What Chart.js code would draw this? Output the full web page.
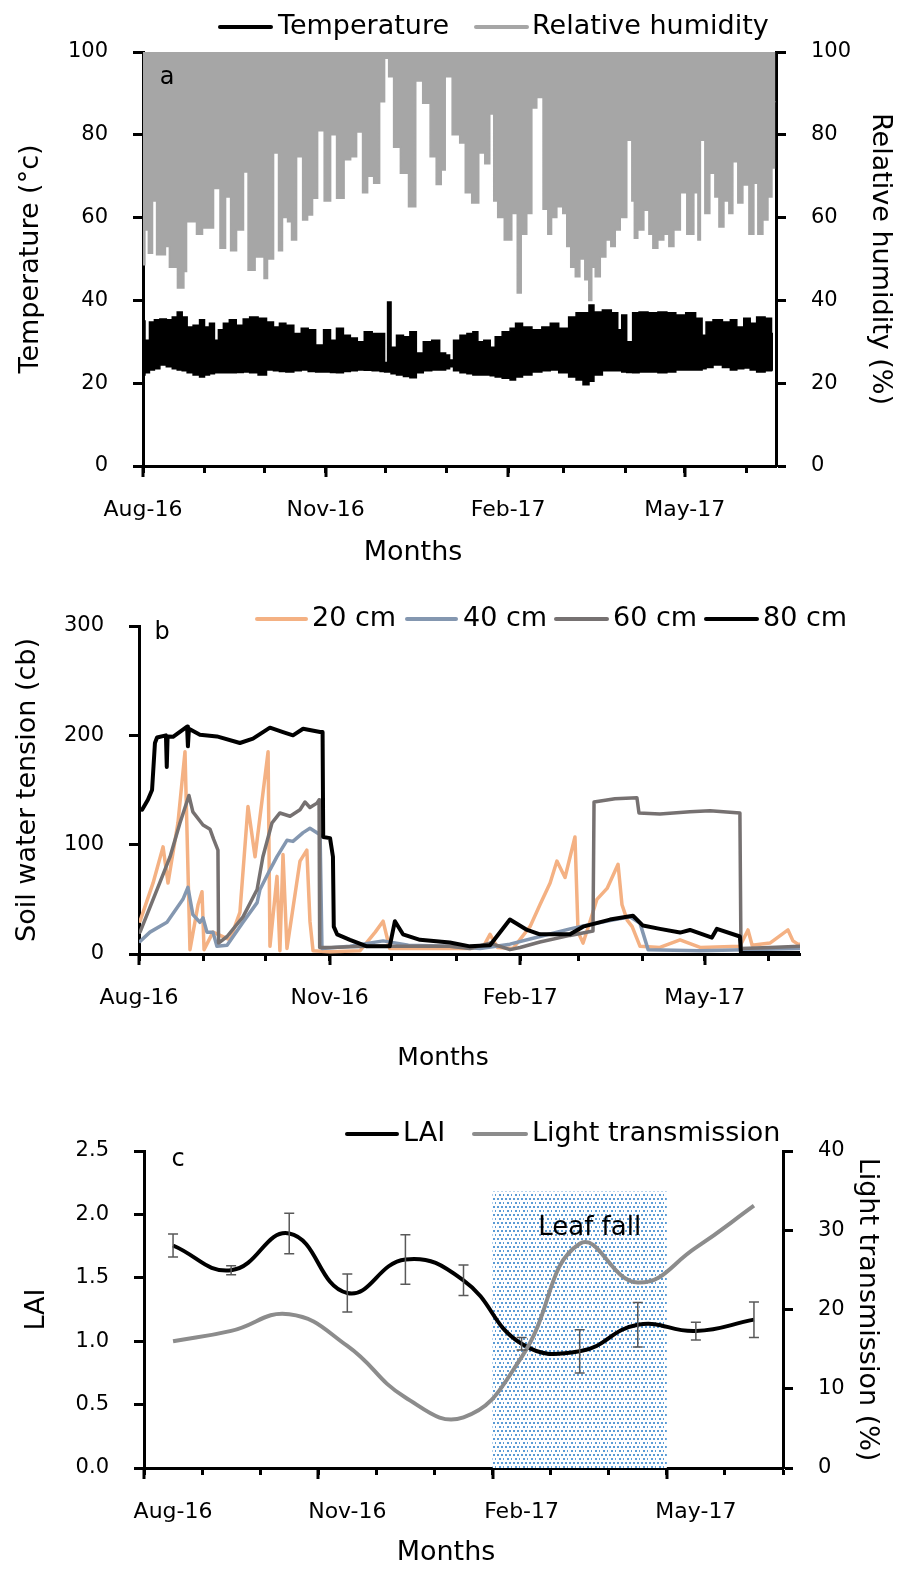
<!DOCTYPE html>
<html>
<head>
<meta charset="utf-8">
<script src="https://cdn.jsdelivr.net/npm/chart.js@4.4.1/dist/chart.umd.min.js"></script>
<style>
  html, body { margin: 0; padding: 0; background: #fff; }
  #wrap { position: relative; width: 901px; height: 1569px; }
  .panel { position: absolute; left: 0; width: 901px; }
  canvas { display: block; }
</style>
</head>
<body>
<div id="wrap">
  <div class="panel" style="top:0px;height:575px"><canvas id="chartA" width="901" height="575"></canvas></div>
  <div class="panel" style="top:575px;height:510px"><canvas id="chartB" width="901" height="510"></canvas></div>
  <div class="panel" style="top:1085px;height:484px"><canvas id="chartC" width="901" height="484"></canvas></div>
</div>
<script>
// ---------- shared month axis (days since 1 Aug 2016) ----------
const monthStartDays = [0, 31, 61, 92, 122, 153, 184, 212, 243, 273, 304];
const monthTickLabels = ['Aug-16', '', '', 'Nov-16', '', '', 'Feb-17', '', '', 'May-17', ''];
const dayAxisMax = 319;

// ---------- (a) air temperature and relative humidity ----------
const rhDay = [0, 1.9, 3.5, 6.1, 7.6, 10, 12.6, 14, 16, 18.7, 20, 21.2, 22.7, 25.2, 28.7, 31.3, 33.8, 37.3, 40.3, 42.9, 45.4, 48.9, 52.4, 53.5, 55.5, 57.5, 60.5, 61.5, 64, 67.6, 69, 71.6, 74.1, 75.6, 79.2, 81.7, 84.2, 86.7, 89.3, 93.3, 95.8, 99.3, 103.4, 105.9, 109.4, 111.9, 114.5, 118, 120.5, 123, 124.6, 128, 131.4, 136.2, 138.7, 143.2, 146.2, 149.3, 151.3, 153.3, 158.3, 160.9, 163.9, 167.4, 171, 173.5, 176, 177.5, 180, 184.1, 187.6, 189.6, 191.6, 195.2, 196.7, 200.2, 203, 205, 206.8, 210.3, 212.8, 214.3, 216.8, 218.9, 221.4, 223.9, 225.4, 226.9, 228.9, 232, 234.5, 237, 239, 242, 245.6, 247.1, 248.1, 250.6, 254.2, 255.7, 258.2, 260.7, 264.2, 265.8, 269.3, 272.3, 275.8, 279.4, 279.9, 281.9, 284.4, 286.9, 289.5, 291, 294.5, 296, 298.5, 301, 303.6, 307.1, 308.6, 311.1, 313.7, 316.2, 317.7, 318.7];
const rhDailyMin = [48.6, 57, 51.4, 64, 51, 51, 53, 48, 48, 43, 43, 47, 59, 59, 56, 57.5, 57.5, 67, 52.6, 65, 52, 57, 71, 47.3, 47.3, 50.5, 50.5, 45.3, 50, 75.6, 52, 60, 59, 54.6, 74.7, 59.4, 60.6, 64.7, 81, 64, 80, 64.7, 74, 74.7, 80.7, 66, 70, 68.3, 88, 98.5, 94, 77, 70.7, 62.6, 93, 87.6, 74.7, 68, 71.5, 94, 80, 78, 66, 63.5, 75.6, 73, 85, 64, 60, 54.6, 61, 41.8, 56, 61, 86.5, 89, 62, 56, 60, 62.6, 61, 53, 48, 45.7, 50, 45, 40, 48, 45.7, 50.5, 54.6, 53, 57, 60, 78.7, 64, 55, 57, 61.8, 56, 52.6, 54.6, 56, 53, 57, 66, 56, 66, 54.6, 78.7, 61, 70.7, 65, 57.7, 64, 61, 73.5, 63.5, 67.9, 56, 68.3, 56, 59.4, 65, 72, 88];

const tempDay = [0, 2, 4.5, 7, 10, 13.5, 16, 18.5, 21, 23.5, 27, 30, 32, 35, 37, 39, 42, 45, 49, 52, 55.5, 60.5, 64, 67.5, 70, 74, 78, 81.5, 85, 89, 93, 96, 99, 103, 106, 110, 113, 118, 121, 122.5, 124, 126, 129.5, 133, 136, 139.5, 143, 148, 151, 154, 155, 158, 161.5, 165, 167.5, 170, 173.5, 176.5, 178.5, 183.5, 186.5, 189, 193.5, 198.5, 203.5, 207, 212, 217, 219.5, 224, 225.5, 229, 234, 238, 240.5, 242, 245.5, 248, 252, 257, 262, 266, 271, 276, 281, 282.5, 285, 289.5, 294.5, 297.5, 301, 304.5, 307.5, 311, 316, 317.5];
const tempDailyMax = [35, 30.4, 34.8, 35.3, 35.5, 35.3, 36, 37.2, 36, 33.6, 34, 35.3, 33.6, 34.5, 30.4, 32.9, 34.5, 35.3, 34, 35.5, 36, 35.7, 34.8, 33.6, 34.5, 34, 32, 33.3, 32.9, 29.2, 32.9, 30.4, 33.3, 31.6, 30.9, 30, 32.4, 32, 32, 25, 39.6, 28.7, 31.6, 31.2, 32.4, 27.3, 30, 30.4, 27.3, 26.8, 25.6, 30.4, 31.6, 32, 32.4, 30, 30.4, 28.7, 31.2, 32.4, 33.3, 34.5, 33.6, 32.9, 33.6, 34.5, 33.3, 36, 37, 37, 38.9, 37.2, 37.7, 37, 32.9, 36.5, 30, 37, 37.2, 37, 37.2, 37, 36.5, 37, 35.7, 31.6, 34.8, 35.3, 34.8, 35.3, 33.6, 35.7, 34.5, 36, 35.7, 32];
const tempDailyMin = [22, 22.5, 23.2, 23.5, 24.4, 24, 23.5, 23.2, 23, 22.5, 22, 21.5, 22, 22.3, 22.5, 22.5, 22.5, 22.5, 22.6, 22.7, 22.5, 22, 23.2, 23, 22.8, 22.7, 23, 23.2, 22.8, 22.7, 22.7, 22.6, 22.5, 22.8, 23, 23.2, 23.1, 23, 22.8, 22.7, 22.7, 22.3, 22, 21.6, 21.3, 22.5, 23, 23.2, 23.2, 23.5, 24, 23, 22.5, 22.3, 22, 22, 22, 21.8, 21.5, 21.2, 20.8, 21.5, 22, 22.7, 23, 23.2, 22.5, 21.5, 20.8, 19.6, 20.5, 22, 23, 23, 23, 22.7, 22.6, 22.5, 22.7, 22.7, 22.5, 22.7, 23.2, 23.2, 23.2, 23.5, 23.8, 24.4, 23.8, 23.2, 23.5, 23.7, 23.2, 22.7, 23, 23.2];

// ---------- (b) soil water tension by depth ----------
const swt20Day = [0.5, 6.8, 11.6, 14, 18.8, 22.2, 24.6, 28.5, 30.4, 31.4, 35.7, 43.9, 48.7, 52.6, 56, 62.3, 63.2, 66.6, 68, 69.5, 71.4, 77.7, 81, 82.5, 84, 92, 106.7, 114, 117.8, 121, 159.7, 166, 169.4, 173, 180.5, 188.7, 193.5, 198.4, 201.7, 205.6, 210.4, 211.9, 214.3, 217.7, 221, 225.9, 231.2, 233.1, 235.6, 238, 241.8, 251.4, 261.1, 270.8, 290, 293.9, 295.9, 304.5, 313.2, 315.6, 318, 319];
const swt20 = [30, 65, 98, 65, 120, 185, 4, 45, 57, 4, 20, 13, 38, 135, 89, 185, 7, 71, 3, 91, 5, 85, 95, 30, 3, 2, 3, 20, 30, 5, 5, 6, 18, 6, 5, 25, 45, 65, 85, 70, 107, 20, 10, 30, 50, 60, 82, 45, 31, 25, 7, 6, 13, 6, 7, 22, 8, 10, 22, 12, 9, 9];
const swt40Day = [0.5, 5.3, 13.5, 21.2, 23.6, 26, 29.4, 30.9, 32.8, 35.7, 37.6, 42.5, 50.2, 57, 58.4, 63.2, 66.6, 71.4, 74.3, 79.2, 82.5, 87.4, 88.3, 101.8, 117.8, 130, 150, 164.6, 179, 193.5, 208, 217.7, 227.3, 237, 241.8, 245.7, 270.8, 319];
const swt40 = [11.5, 20, 29, 50, 61, 36, 29, 33, 20, 20, 7, 8, 29, 47, 59, 77, 89, 104, 103, 111, 115, 109, 5, 7, 12, 8, 7, 5, 9, 16, 23, 27, 30.6, 34, 28, 4, 3, 5];
const swt60Day = [0.5, 10, 15, 19.8, 24.1, 26, 30.9, 34.3, 36, 38.1, 38.4, 42.5, 50.2, 57, 59.8, 64.2, 68, 72.9, 77.7, 80.1, 82.5, 85.9, 86.9, 87.2, 92.2, 110, 130, 150, 159.7, 169.4, 179, 183.9, 193.5, 208, 219.1, 219.6, 229.7, 240.3, 241.3, 251.4, 265.9, 275.6, 290, 290.5, 304.5, 319];
const swt60 = [20, 65, 89, 120, 145, 130, 118, 114, 105, 95, 10, 16, 34, 59, 89, 120, 129, 126, 132, 139, 134, 138, 141, 6, 6, 7, 7, 7, 5, 10, 4, 6, 11, 17, 21, 139, 142, 143, 129, 128, 130, 131, 129, 5, 6, 7];
const swt80Day = [1.5, 4.3, 6.3, 7.7, 8.7, 13, 13.4, 13.8, 16.4, 23.2, 23.6, 24.1, 29.4, 37.6, 48.7, 55, 63.2, 69.5, 74.3, 79.2, 87.4, 88.6, 88.9, 92.2, 93.6, 94, 95.6, 101.8, 110, 121, 123.5, 127.4, 135.6, 150, 159.7, 169.4, 179, 187.3, 193.5, 208, 214.3, 227.3, 238.4, 243.2, 251.4, 261.1, 265.9, 276.5, 278.9, 290, 290.5, 319];
const swt80 = [132, 141, 150, 193, 198, 200, 171, 199, 198.6, 208, 190, 206, 200.5, 199, 193, 197, 207, 203, 200, 206, 203, 203, 107, 106, 89, 25, 18, 13, 7, 7, 30, 18, 13, 10.5, 7, 8, 31.5, 22, 18, 18, 25, 31.5, 35, 26, 23, 19.6, 22, 15, 23, 16, 1, 1];

// ---------- (c) LAI and light transmission (monthly, mid-month) ----------
const laiMonths = ['Aug-16', 'Sep-16', 'Oct-16', 'Nov-16', 'Dec-16', 'Jan-17', 'Feb-17', 'Mar-17', 'Apr-17', 'May-17', 'Jun-17'];
const laiMean = [1.755, 1.56, 1.85, 1.38, 1.645, 1.48, 0.98, 0.92, 1.13, 1.08, 1.17];
const laiSE = [0.09, 0.035, 0.16, 0.15, 0.195, 0.12, 0.05, 0.17, 0.175, 0.07, 0.14];
const lightTransmission = [16.0, 17.3, 19.4, 15.4, 8.9, 6.4, 14.0, 28.3, 23.4, 27.8, 33.1];
const monthAxisLabels = { 0.5: 'Aug-16', 3.5: 'Nov-16', 6.5: 'Feb-17', 9.5: 'May-17' };
const leafFallMonths = [6, 9];
const leafFallTopLAI = 2.18;

// ---------- helpers ----------
const FONT = '"DejaVu Sans", "Verdana", sans-serif';
Chart.defaults.font.family = FONT;
Chart.defaults.color = '#000';

const pts = (xs, ys) => ys.map((y, i) => ({ x: xs[i], y }));

function yScale(pos, min, max, step, width, title, titlePad, fmt) {
  return {
    type: 'linear', position: pos, min, max,
    ticks: { stepSize: step, font: { size: 21 }, color: '#000', padding: 25,
             callback: fmt || (v => v) },
    grid: { drawOnChartArea: false, drawTicks: true, tickLength: 10, tickWidth: 3, tickColor: '#000' },
    border: { display: true, color: '#000', width: 3 },
    title: { display: !!title, text: title, font: { size: 27 }, color: '#000', padding: { top: titlePad, bottom: 0 } },
    afterFit(s) { s.width = width; }
  };
}

function dayXScale(height) {
  return {
    type: 'linear', position: 'bottom', min: 0, max: dayAxisMax,
    afterBuildTicks(s) { s.ticks = monthStartDays.map(v => ({ value: v })); },
    ticks: { autoSkip: false, maxRotation: 0, font: { size: 22 }, color: '#000', padding: 24,
             callback: v => monthTickLabels[monthStartDays.indexOf(v)] || '' },
    grid: { drawOnChartArea: false, drawTicks: true, tickLength: 7, tickWidth: 3, tickColor: '#000' },
    border: { display: true, color: '#000', width: 3 },
    afterFit(s) { s.height = height; }
  };
}

// longer ticks under the labelled months
const majorTicks = {
  id: 'majorTicks',
  afterDraw(chart, args, opts) {
    const s = chart.scales.x, ctx = chart.ctx, y0 = chart.chartArea.bottom;
    ctx.save();
    ctx.strokeStyle = '#000'; ctx.lineWidth = 3;
    opts.values.forEach(v => {
      const x = Math.round(s.getPixelForValue(v));
      ctx.beginPath(); ctx.moveTo(x, y0); ctx.lineTo(x, y0 + opts.len); ctx.stroke();
    });
    ctx.restore();
  }
};

// line-style legend entries placed in a row above the plot
const lineLegend = {
  id: 'lineLegend',
  afterDraw(chart, args, opts) {
    const ctx = chart.ctx;
    ctx.save();
    ctx.font = opts.size + 'px ' + FONT;
    ctx.textBaseline = 'middle'; ctx.textAlign = 'left';
    opts.items.forEach(it => {
      const ds = chart.data.datasets[it.ds];
      ctx.strokeStyle = ds.borderColor; ctx.lineWidth = 4; ctx.lineCap = 'round';
      ctx.beginPath(); ctx.moveTo(it.x0, opts.y); ctx.lineTo(it.x1, opts.y); ctx.stroke();
      ctx.fillStyle = '#000';
      ctx.fillText(ds.label, it.tx, opts.y);
    });
    ctx.restore();
  }
};

// free-standing text: panel letters and the x-axis caption
const notes = {
  id: 'notes',
  afterDraw(chart, args, opts) {
    const ctx = chart.ctx;
    ctx.save();
    opts.items.forEach(t => {
      ctx.font = t.size + 'px ' + FONT;
      ctx.fillStyle = '#000'; ctx.textAlign = 'center'; ctx.textBaseline = 'middle';
      ctx.fillText(t.text, t.x, t.y);
    });
    ctx.restore();
  }
};

// ---------- chart (a) ----------
new Chart(document.getElementById('chartA'), {
  type: 'line',
  data: {
    datasets: [
      { label: 'Temperature', data: pts(tempDay, tempDailyMax), yAxisID: 'y', borderColor: '#000', backgroundColor: '#000',
        borderWidth: 1.5, stepped: 'middle', fill: '+1', pointRadius: 0 },
      { label: '', data: pts(tempDay, tempDailyMin), yAxisID: 'y', borderColor: '#000', backgroundColor: '#000',
        borderWidth: 1.5, stepped: 'middle', fill: false, pointRadius: 0 },
      { label: 'Relative humidity', data: pts(rhDay, rhDailyMin), yAxisID: 'y1', borderColor: '#a6a6a6', backgroundColor: '#a6a6a6',
        borderWidth: 1.5, stepped: 'middle', fill: 'end', pointRadius: 0 }
    ]
  },
  options: {
    responsive: false, animation: false, events: [],
    layout: { padding: { top: 52, left: 0, right: 0, bottom: 0 } },
    plugins: {
      legend: { display: false }, tooltip: { enabled: false },
      majorTicks: { values: [0, 92, 184, 273], len: 11 },
      lineLegend: { y: 27, size: 27, items: [ { ds: 0, x0: 220, x1: 271, tx: 278 }, { ds: 2, x0: 476, x1: 527, tx: 532 } ] },
      notes: { items: [ { text: 'a', x: 167, y: 78, size: 24 }, { text: 'Months', x: 413, y: 553, size: 27 } ] }
    },
    scales: {
      x: dayXScale(109),
      y: yScale('left', 0, 100, 20, 143, 'Temperature (\u00B0c)', 15),
      y1: yScale('right', 0, 100, 20, 125, 'Relative humidity (%)', 5)
    }
  },
  plugins: [majorTicks, lineLegend, notes]
});

// ---------- chart (b) ----------
const swtLine = (label, d, v, color, w) => ({ label, data: pts(d, v), borderColor: color, backgroundColor: color,
  borderWidth: w, pointRadius: 0, fill: false, tension: 0, borderJoinStyle: 'round', borderCapStyle: 'round' });

new Chart(document.getElementById('chartB'), {
  type: 'line',
  data: {
    datasets: [
      swtLine('80 cm', swt80Day, swt80, '#000000', 4),
      swtLine('60 cm', swt60Day, swt60, '#767171', 3.5),
      swtLine('40 cm', swt40Day, swt40, '#8497b0', 3.5),
      swtLine('20 cm', swt20Day, swt20, '#f4b183', 3.5)
    ]
  },
  options: {
    responsive: false, animation: false, events: [],
    layout: { padding: { top: 51, left: 0, right: 101, bottom: 0 } },
    plugins: {
      legend: { display: false }, tooltip: { enabled: false },
      majorTicks: { values: [0, 92, 184, 273], len: 11 },
      lineLegend: { y: 44, size: 27, items: [
        { ds: 3, x0: 257, x1: 306, tx: 312 }, { ds: 2, x0: 407, x1: 456, tx: 463 },
        { ds: 1, x0: 556, x1: 607, tx: 613 }, { ds: 0, x0: 706, x1: 757, tx: 763 } ] },
      notes: { items: [ { text: 'b', x: 162, y: 58, size: 24 }, { text: 'Months', x: 443, y: 483, size: 25 } ] }
    },
    scales: {
      x: dayXScale(131),
      y: yScale('left', 0, 300, 100, 139, 'Soil water tension (cb)', 12)
    }
  },
  plugins: [majorTicks, lineLegend, notes]
});

// ---------- chart (c) ----------
function dotPattern() {
  const c = document.createElement('canvas');
  c.width = 8; c.height = 8;
  const g = c.getContext('2d');
  g.fillStyle = '#ffffff'; g.fillRect(0, 0, 8, 8);
  g.fillStyle = '#5b9bd5';
  [[1, 1], [5, 1], [3, 5], [7, 5]].forEach(p => g.fillRect(p[0], p[1], 2, 2));
  return c;
}

const leafFall = {
  id: 'leafFall',
  beforeDatasetsDraw(chart) {
    const { ctx, scales } = chart;
    const x0 = scales.x.getPixelForValue(leafFallMonths[0]);
    const x1 = scales.x.getPixelForValue(leafFallMonths[1]);
    const yTop = scales.y.getPixelForValue(leafFallTopLAI);
    const yBot = scales.y.getPixelForValue(0);
    ctx.save();
    ctx.fillStyle = ctx.createPattern(dotPattern(), 'repeat');
    ctx.fillRect(x0, yTop, x1 - x0, yBot - yTop);
    ctx.font = '26px ' + FONT; ctx.fillStyle = '#000'; ctx.textAlign = 'center'; ctx.textBaseline = 'middle';
    ctx.fillText('Leaf fall', (x0 + x1) / 2 + 10, yTop + 37);
    ctx.restore();
  }
};

const errorBars = {
  id: 'errorBars',
  afterDatasetsDraw(chart) {
    const { ctx, scales } = chart;
    ctx.save();
    ctx.strokeStyle = '#595959'; ctx.lineWidth = 1.5;
    laiMean.forEach((m, i) => {
      const x = scales.x.getPixelForValue(i + 0.5);
      const yHi = scales.y.getPixelForValue(m + laiSE[i]);
      const yLo = scales.y.getPixelForValue(m - laiSE[i]);
      ctx.beginPath();
      ctx.moveTo(x, yHi); ctx.lineTo(x, yLo);
      ctx.moveTo(x - 5, yHi); ctx.lineTo(x + 5, yHi);
      ctx.moveTo(x - 5, yLo); ctx.lineTo(x + 5, yLo);
      ctx.stroke();
    });
    ctx.restore();
  }
};

const halfTicks = [];
for (let v = 0; v <= 11; v += 0.5) halfTicks.push(v);

new Chart(document.getElementById('chartC'), {
  type: 'line',
  data: {
    datasets: [
      { label: 'LAI', data: laiMean.map((v, i) => ({ x: i + 0.5, y: v })), yAxisID: 'y', borderColor: '#000', backgroundColor: '#000',
        borderWidth: 4, pointRadius: 0, tension: 0.45, fill: false, order: 1 },
      { label: 'Light transmission', data: lightTransmission.map((v, i) => ({ x: i + 0.5, y: v })), yAxisID: 'y1',
        borderColor: '#8c8c8c', backgroundColor: '#8c8c8c', borderWidth: 4, pointRadius: 0, tension: 0.45, fill: false, order: 0 }
    ]
  },
  options: {
    responsive: false, animation: false, events: [],
    layout: { padding: { top: 66, left: 0, right: 0, bottom: 0 } },
    plugins: {
      legend: { display: false }, tooltip: { enabled: false },
      majorTicks: { values: [0, 3, 6, 9], len: 11 },
      lineLegend: { y: 49, size: 27, items: [ { ds: 0, x0: 347, x1: 397, tx: 403 }, { ds: 1, x0: 474, x1: 526, tx: 532 } ] },
      notes: { items: [ { text: 'c', x: 178, y: 75, size: 24 }, { text: 'Months', x: 446, y: 468, size: 27 } ] }
    },
    scales: {
      x: {
        type: 'linear', position: 'bottom', min: 0, max: 11,
        afterBuildTicks(s) { s.ticks = halfTicks.map(v => ({ value: v })); },
        ticks: { autoSkip: false, maxRotation: 0, font: { size: 22 }, color: '#000', padding: 24,
                 callback: v => monthAxisLabels[v] || '' },
        grid: { drawOnChartArea: false, drawTicks: true, tickLength: 7, tickWidth: 3,
                tickColor: c => Number.isInteger(c.tick.value) ? '#000' : 'rgba(0,0,0,0)' },
        border: { display: true, color: '#000', width: 3 },
        afterFit(s) { s.height = 101; }
      },
      y: yScale('left', 0, 2.5, 0.5, 144, 'LAI', 21, v => v.toFixed(1)),
      y1: yScale('right', 0, 40, 10, 118, 'Light transmission (%)', 18)
    }
  },
  plugins: [leafFall, errorBars, majorTicks, lineLegend, notes]
});
</script>
</body>
</html>
